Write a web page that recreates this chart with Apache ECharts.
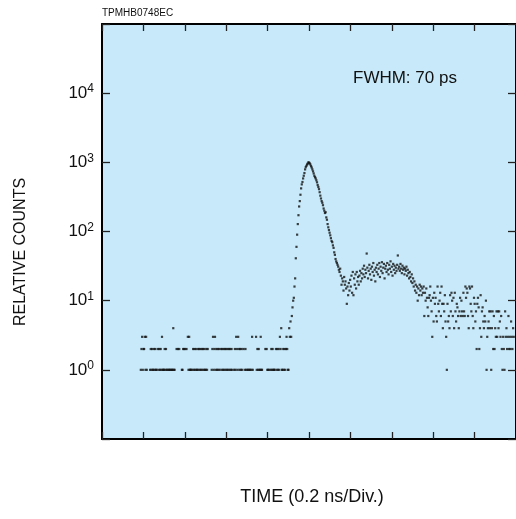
<!DOCTYPE html>
<html>
<head>
<meta charset="utf-8">
<title>Relative counts</title>
<script src="https://cdn.jsdelivr.net/npm/echarts@6/dist/echarts.min.js"></script>
<style>
  html, body { margin: 0; padding: 0; background: #fff; }
  #main { width: 516px; height: 519px; }
</style>
</head>
<body>
<div id="main"></div>
<script>
// channel width and time of the first channel (ns)
var CHANNEL_NS = 0.0032;
var START_NS = 0.1875;

// counts per channel (0 = empty channel)
var baseline = [
  1,2,3,1,2,2,3,1,3,1, 0,0,0,0,1,2,1,2,1,1, 2,1,2,1,1,0,2,1,2,1,
  2,1,3,1,1,1,2,1,2,1, 1,0,1,1,1,0,1,1,1,4, 1,1,0,0,2,0,2,0,2,0,
  0,0,1,1,2,2,0,2,0,2, 0,3,1,3,1,1,1,0,1,2, 1,2,1,2,1,1,2,1,2,1,
  2,1,2,1,2,1,2,1,1,2, 1,2,0,0,0,0,0,1,2,3, 1,2,3,1,2,1,2,1,2,1,
  0,2,1,2,1,2,1,2,1,2, 1,2,1,2,1,2,1,2,1,0, 0,1,2,1,3,2,1,3,2,1,
  2,1,2,1,0,2,0,1,2,1, 0,1,1,0,1,1,0,1,3,1, 0,0,0,0,3,1,2,1,2,1,
  1,3,1,1,0,0,0,0,2,0, 2,1,1,0,1,0,1,2,1,2, 1,1,1,0,2,1,2,1,2,1
];
var rise = [
  3,2,4,1,1,2,1,2,1,2, 3,2,1,1,4,3,5,3,6,8, 10,11,16,21,41,60,90,128,172,230
];
var peakDecay = [
  275,340,420,480,520,585,640,700,790,850, 890,930,960,1000,990,965,930,880,840,790,
  740,690,640,610,585,550,514,470,440,409,
  370,330,300,275,260,240,215,200,185,190, 160,148,128,115,105,96,88,80,73,70,
  63,58,50,46,40,37,35,33,31,28
];
var hump = [
  26,29,23,17,21,19,14,22,17,19, 15,9,16,12,18,14,20,16,23,13, 26,12,21,17,24,15,26,19,22,17,
  23,27,19,25,21,29,24,32,22,28, 25,48,30,21,27,33,24,29,20,31, 26,35,23,28,19,30,26,33,24,29,
  35,22,31,27,36,25,30,34,21,29, 32,26,35,28,24,33,29,37,26,31, 23,34,28,32,25,30,27,33,45,29,
  31,27,34,29,25,32,28,30,24,29, 27,31,23,28,25,21,26,22,19,24, 18,21,16,19,14,17,13,16,10,15
];
var tail = [
  12,17,14,16,12,15,13,16,6,13, 10,15,11,8,6,11,12,16,10,7, 3,11,5,13,9,11,6,5,16,9,
  7,10,13,6,16,9,4,9,7,12, 5,3,1,9,5,6,4,12,7,13, 10,6,11,4,13,7,5,9,8,6,
  4,7,11,6,10,7,6,13,7,6, 16,11,15,13,6,4,16,15,9,7, 16,6,4,11,9,5,7,2,9,11,
  8,2,4,12,3,7,8,5,4,6, 5,10,1,3,4,5,7,4,7,1, 4,7,2,6,2,4,3,7,3,7,
  4,7,5,3,6,2,1,3,2,1, 7,3,4,2,3,6,2,3,2,5, 3,2,4,3
];

// decades that carry a label on the y axis
var yExponents = [0, 1, 2, 3, 4];

var counts = baseline.concat(rise, peakDecay, hump, tail);
var points = [];
for (var i = 0; i < counts.length; i++) {
  if (counts[i] > 0) points.push([START_NS + i * CHANNEL_NS, counts[i]]);
}

var FONT = '"Liberation Sans", Arial, Helvetica, sans-serif';
var myChart = echarts.init(document.getElementById('main'), null, { renderer: 'canvas' });

function xAxisCfg(pos) {
  return {
    type: 'value', position: pos, min: 0, max: 2, interval: 0.2,
    axisLine: { show: true, onZero: false, lineStyle: { color: '#000', width: 2 } },
    axisTick: { show: true, inside: true, length: 7, lineStyle: { color: '#222', width: 1.3 } },
    axisLabel: { show: false },
    splitLine: { show: false }
  };
}
function yAxisCfg(pos, labels) {
  return {
    type: 'log', logBase: 10, min: 0.1, max: 100000, position: pos,
    axisLine: { show: true, onZero: false, lineStyle: { color: '#000', width: 2 } },
    axisTick: { show: true, inside: true, length: 8, lineStyle: { color: '#222', width: 1.3 } },
    minorTick: { show: false },
    splitLine: { show: false },
    axisLabel: labels ? {
      show: true, margin: 8,
      formatter: function (v) {
        var e = Math.round(Math.log(v) / Math.LN10);
        if (yExponents.indexOf(e) < 0) return '';
        return '{b|10}{s|' + e + '}';
      },
      rich: {
        b: { fontSize: 17, fontFamily: FONT, color: '#111', lineHeight: 20 },
        s: { fontSize: 12, fontFamily: FONT, color: '#111', lineHeight: 12, verticalAlign: 'top' }
      }
    } : { show: false }
  };
}

var option = {
  animation: false,
  backgroundColor: '#fff',
  title: {
    text: 'TPMHB0748EC', left: 102, top: 8, padding: 0,
    textStyle: { fontSize: 10, fontWeight: 'normal', fontFamily: FONT, color: '#111' }
  },
  grid: {
    left: 102, top: 24, width: 416, height: 415,
    show: true, backgroundColor: '#c7e9f9', borderWidth: 0
  },
  xAxis: [xAxisCfg('bottom'), xAxisCfg('top')],
  yAxis: [yAxisCfg('left', true), yAxisCfg('right', false)],
  graphic: [
    { type: 'text', x: 21, y: 252, rotation: Math.PI / 2,
      style: { text: 'RELATIVE COUNTS', font: '16px ' + FONT, fill: '#111',
        align: 'center', verticalAlign: 'middle', textAlign: 'center', textVerticalAlign: 'middle' } },
    { type: 'text', x: 312, y: 497,
      style: { text: 'TIME (0.2 ns/Div.)', font: '18px ' + FONT, fill: '#111',
        align: 'center', verticalAlign: 'middle', textAlign: 'center', textVerticalAlign: 'middle' } },
    { type: 'text', x: 353, y: 78,
      style: { text: 'FWHM: 70 ps', font: '17px ' + FONT, fill: '#111',
        align: 'left', verticalAlign: 'middle', textAlign: 'left', textVerticalAlign: 'middle' } }
  ],
  series: [{
    type: 'scatter',
    xAxisIndex: 0, yAxisIndex: 0,
    symbol: 'rect', symbolSize: 2.2,
    itemStyle: { color: '#111' },
    silent: true,
    data: points
  }]
};
myChart.setOption(option);
</script>
</body>
</html>
